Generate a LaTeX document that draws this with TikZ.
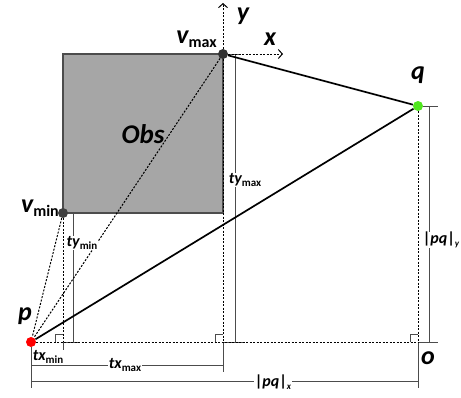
\documentclass[tikz,border=0pt]{standalone}
\usepackage{fontspec}
\setmainfont{Carlito}
\usetikzlibrary{arrows.meta}
\newcommand{\subtext}[2]{\raisebox{-0.35ex}{\upshape\fontsize{#1}{#1}\selectfont #2}}
\tikzset{
  dot/.style={circle, inner sep=0pt, minimum size=10pt},
  dimline/.style={draw=black!70, line width=0.9pt},
  hint/.style={black, line width=1pt, dash pattern=on 2pt off 1.5pt},
  seg/.style={black, line width=1.7pt},
  lbl/.style={font=\bfseries\itshape\fontsize{26}{28}\selectfont, inner sep=1pt},
  dimlbl/.style={font=\bfseries\itshape\fontsize{16}{18}\selectfont, fill=white, inner sep=0.5pt},
}
\begin{document}
\begin{tikzpicture}[x=1pt, y=-1pt]
  \useasboundingbox (0,0) rectangle (461,397);
  % obstacle
  \filldraw[fill=black!35, draw=black!70, line width=1.2pt] (63,54) rectangle (223,213);
  \node[lbl, font=\bfseries\itshape\fontsize{27}{29}\selectfont] (obs) at (143,134) {Obs};
  % points
  \node[dot, fill=red] (p) at (31,342) {};
  \node[dot, fill={rgb,255:red,80;green,230;blue,30}] (q) at (418,106) {};
  \node[dot, fill=black!80] (vmax) at (223,54) {};
  \node[dot, fill=black!75] (vmin) at (63,213) {};
  \coordinate (o) at (418,342);
  \coordinate (fmin) at (63,342);
  \coordinate (fmax) at (223,342);
  \coordinate (xtip) at (283,54);
  \coordinate (ytip) at (223,3);
  % dimension lines
  \draw[dimline] (73,213) -- (73,342) (63,342) -- (79,342);
  \draw[dimline] (235,54) -- (235,342) (vmax) -- (240,54) (fmax) -- (243,342);
  \draw[dimline] (429,106) -- (429,342) (q) -- (438,106) (o) -- (438,342);
  \draw[dimline] (fmin) -- (63,362) (31,357) -- (63,357);
  \draw[dimline] (fmax) -- (223,372) (31,365) -- (223,365);
  \draw[dimline] (p) -- (31,388) (o) -- (418,388) (31,381) -- (418,381);
  \foreach \x in {63,223,418}
    \draw[dimline, line width=0.7pt] (\x-8,342) -- (\x-8,334) -- (\x,334);
  % projections
  \draw[hint] (vmin) -- (p);
  \draw[hint] (vmax) -- (p);
  \draw[hint] (vmin) -- (fmin);
  \draw[hint] (vmax) -- (fmax);
  \draw[hint] (p) -- (o);
  \draw[hint] (q) -- (o);
  \draw[hint, -{Straight Barb[length=4pt, width=9pt]}] (vmax) -- (xtip);
  \draw[hint, -{Straight Barb[length=4pt, width=9pt]}] (vmax) -- (ytip);
  \draw[seg] (p) -- (q);
  \draw[seg] (vmax) -- (q);
  % labels
  \node[lbl] (plbl) at (25,316) {p};
  \node[lbl] (qlbl) at (418,75) {q};
  \node[lbl] (olbl) at (428,358) {o};
  \node[lbl] (xlbl) at (270,39) {x};
  \node[lbl] (ylbl) at (243,16) {y};
  \node[lbl, anchor=east] (vmaxlbl) at (218,39) {v\subtext{16}{max}};
  \node[lbl, anchor=east] (vminlbl) at (60,208) {v\subtext{16}{min}};
  \node[dimlbl] (tymin) at (82,243) {ty\subtext{11}{min}};
  \node[dimlbl] (tymax) at (245,180) {ty\subtext{11}{max}};
  \node[dimlbl] (pqy) at (441,240) {{\upshape|}pq{\upshape|}\subtext{9}{\itshape y}};
  \node[dimlbl] (txmin) at (48,357) {tx\subtext{11}{min}};
  \node[dimlbl] (txmax) at (125,365) {tx\subtext{11}{max}};
  \node[dimlbl] (pqx) at (273,382) {{\upshape|}pq{\upshape|}\subtext{9}{\itshape x}};
\end{tikzpicture}
\end{document}
